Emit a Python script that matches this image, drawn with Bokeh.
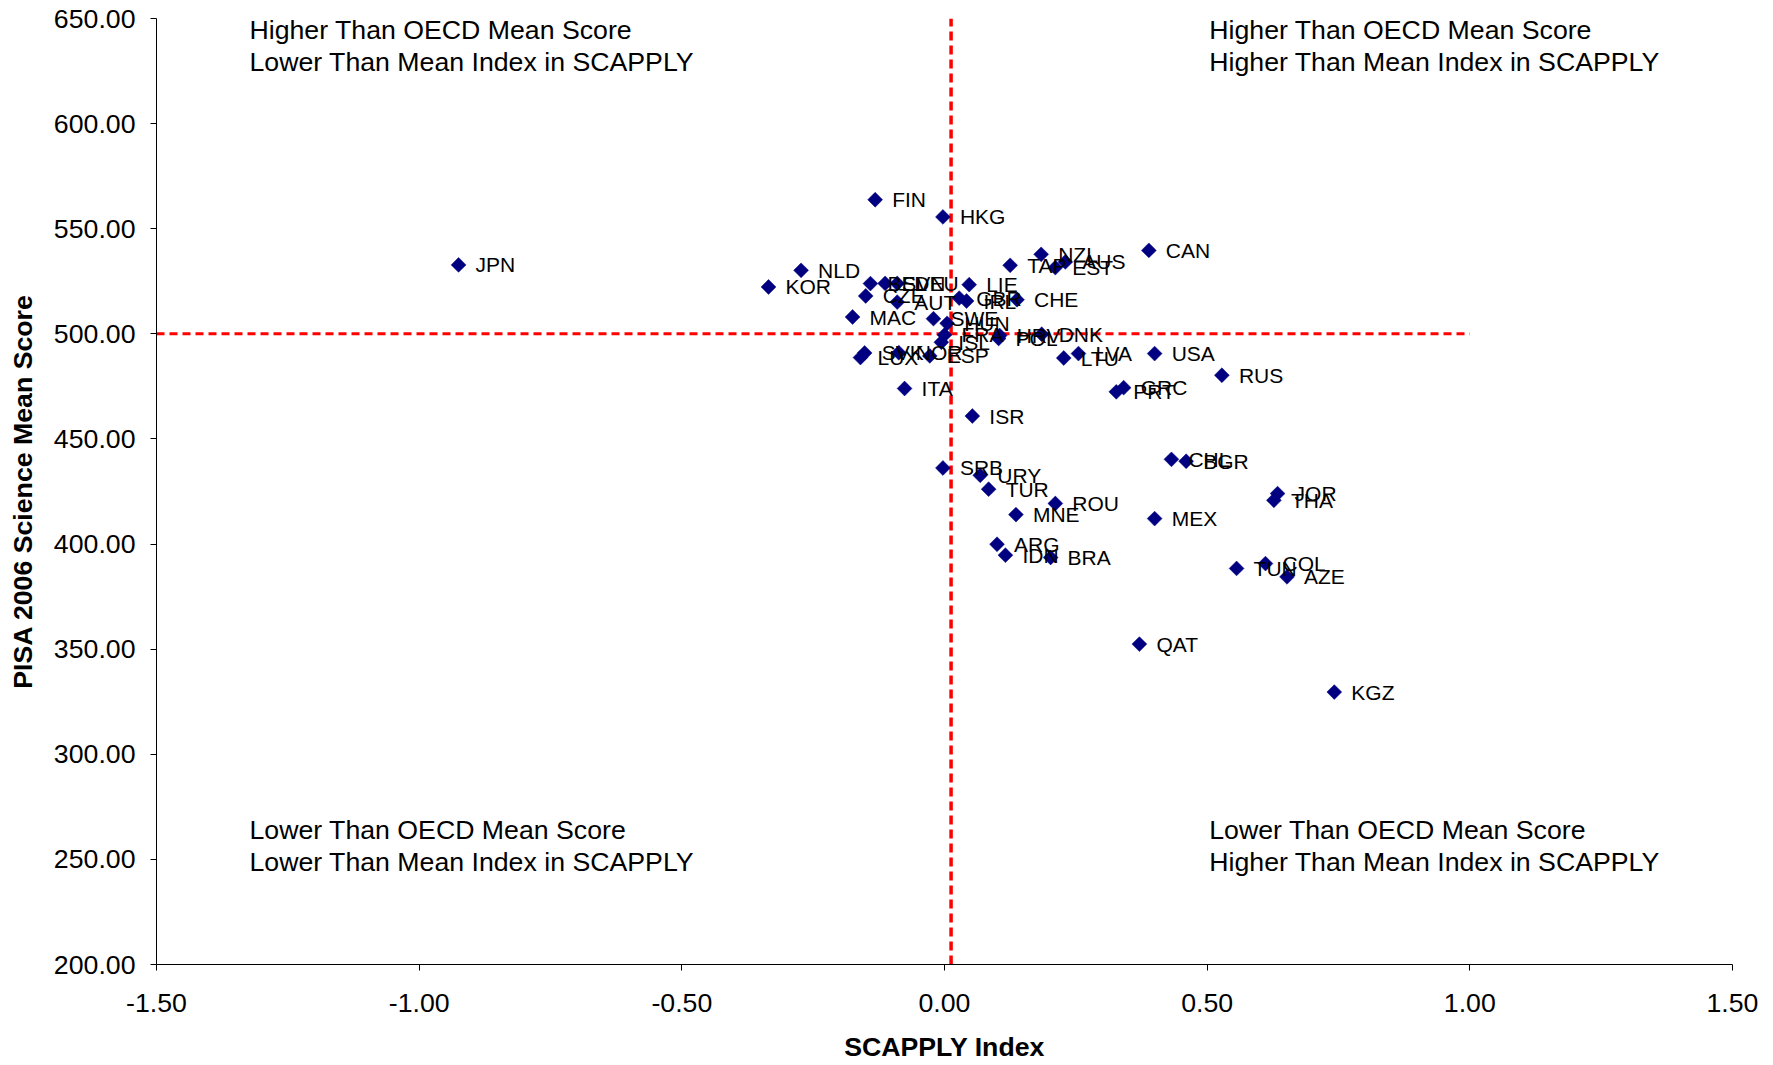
from bokeh.plotting import figure
from bokeh.models import ColumnDataSource, Range1d, FixedTicker, NumeralTickFormatter, Label
from bokeh.core.properties import value
from bokeh.embed import file_html
from bokeh.resources import INLINE

countries = ["JPN", "FIN", "HKG", "NZL", "TAP", "EST", "AUS", "CAN", "NLD", "KOR",
             "BEL", "SVN", "DEU", "LIE", "CZE", "AUT", "GBR", "IRL", "CHE", "MAC",
             "SWE", "HUN", "FRA", "ISL", "ESP", "NOR", "SVK", "LUX", "POL", "HRV",
             "DNK", "LTU", "LVA", "USA", "RUS", "PRT", "GRC", "ITA", "ISR", "SRB",
             "URY", "TUR", "ROU", "MNE", "MEX", "ARG", "IDN", "BRA", "CHL", "BGR",
             "JOR", "THA", "TUN", "COL", "AZE", "QAT", "KGZ"]
scapply = [-0.925, -0.132, -0.003, 0.184, 0.125, 0.211, 0.230, 0.389, -0.273, -0.335,
           -0.141, -0.113, -0.090, 0.047, -0.150, -0.090, 0.028, 0.042, 0.138, -0.175,
           -0.021, 0.005, 0.000, -0.006, -0.028, -0.087, -0.152, -0.160, 0.103, 0.105,
           0.185, 0.227, 0.255, 0.400, 0.528, 0.327, 0.341, -0.076, 0.053, -0.003,
           0.068, 0.084, 0.211, 0.136, 0.400, 0.100, 0.116, 0.202, 0.432, 0.460,
           0.634, 0.627, 0.556, 0.611, 0.652, 0.371, 0.742]
science = [532.8, 563.8, 555.6, 537.8, 532.6, 531.5, 534.2, 539.7, 530.2, 522.3,
           523.9, 524.0, 524.0, 523.4, 518.0, 515.1, 517.0, 515.6, 516.2, 508.0,
           507.2, 505.0, 499.5, 496.0, 489.5, 491.0, 490.9, 488.7, 497.8, 499.2,
           499.8, 488.5, 490.6, 490.6, 480.3, 472.4, 474.4, 474.0, 460.9, 436.2,
           432.7, 426.1, 419.3, 414.0, 412.1, 399.9, 394.7, 393.6, 440.3, 439.4,
           424.0, 420.8, 388.4, 390.7, 384.4, 352.4, 329.6]

x_ticks = [-1.5, -1.0, -0.5, 0.0, 0.5, 1.0, 1.5]
y_ticks = [200, 250, 300, 350, 400, 450, 500, 550, 600, 650]

mean_index = 0.0125
mean_score = 500.0
hline_x = [-1.5, 1.0]
vline_y = [200, 650]

quad_texts = [
    ["Higher Than OECD Mean Score", "Lower Than Mean Index in SCAPPLY"],
    ["Higher Than OECD Mean Score", "Higher Than Mean Index in SCAPPLY"],
    ["Lower Than OECD Mean Score", "Lower Than Mean Index in SCAPPLY"],
    ["Lower Than OECD Mean Score", "Higher Than Mean Index in SCAPPLY"],
]

FONT = "Liberation Sans"
BIG = "26.7px"

p = figure(frame_width=1576, frame_height=946,
           min_border_left=156, min_border_top=18, min_border_right=27, min_border_bottom=95,
           x_range=Range1d(-1.5, 1.5), y_range=Range1d(200, 650),
           output_backend="svg", toolbar_location=None)
p.outline_line_color = None
p.xgrid.visible = False
p.ygrid.visible = False
p.background_fill_color = "white"
p.border_fill_color = "white"

# mean lines
p.line(x=hline_x, y=[mean_score, mean_score], line_color="#FF0000", line_width=3, line_dash="8 5")
p.line(x=[mean_index, mean_index], y=vline_y, line_color="#FF0000", line_width=3.5, line_dash="9 5")

src = ColumnDataSource(dict(x=scapply, y=science, name=countries))
p.scatter(x="x", y="y", source=src, marker="square", angle=0.785398, size=10.5,
          fill_color="#000080", line_color="#000080", line_width=0.5)
p.text(x="x", y="y", text="name", source=src, text_font=value(FONT), text_font_size="21px",
       text_align="left", text_baseline="middle", x_offset=17, y_offset=0, text_color="black")

qx = [-1.323, 0.504, -1.323, 0.504]
qy = [(644.6, 629.1), (644.6, 629.1), (263.9, 248.9), (263.9, 248.9)]
for lines, x0, ys in zip(quad_texts, qx, qy):
    for t, yy in zip(lines, ys):
        p.add_layout(Label(x=x0, y=yy, text=t, text_font=FONT, text_font_size=BIG,
                           text_baseline="middle", text_align="left", text_color="black"))

for ax in (p.xaxis[0], p.yaxis[0]):
    ax.axis_line_color = "black"
    ax.axis_line_width = 1
    ax.major_tick_out = 6
    ax.major_tick_in = 0
    ax.minor_tick_out = 0
    ax.minor_tick_in = 0
    ax.major_tick_line_color = "black"
    ax.major_label_text_font = FONT
    ax.major_label_text_font_size = BIG
    ax.major_label_text_color = "black"
    ax.axis_label_text_font = FONT
    ax.axis_label_text_font_size = BIG
    ax.axis_label_text_font_style = "bold"
    ax.axis_label_text_color = "black"
    ax.formatter = NumeralTickFormatter(format="0.00")

p.xaxis[0].ticker = FixedTicker(ticks=x_ticks)
p.yaxis[0].ticker = FixedTicker(ticks=y_ticks)
p.xaxis[0].axis_label = "SCAPPLY Index"
p.yaxis[0].axis_label = "PISA 2006 Science Mean Score"
p.xaxis[0].major_label_standoff = 23
p.yaxis[0].major_label_standoff = 15
p.xaxis[0].axis_label_standoff = 17
p.yaxis[0].axis_label_standoff = 13

open("out.html", "w").write(file_html(p, INLINE))
